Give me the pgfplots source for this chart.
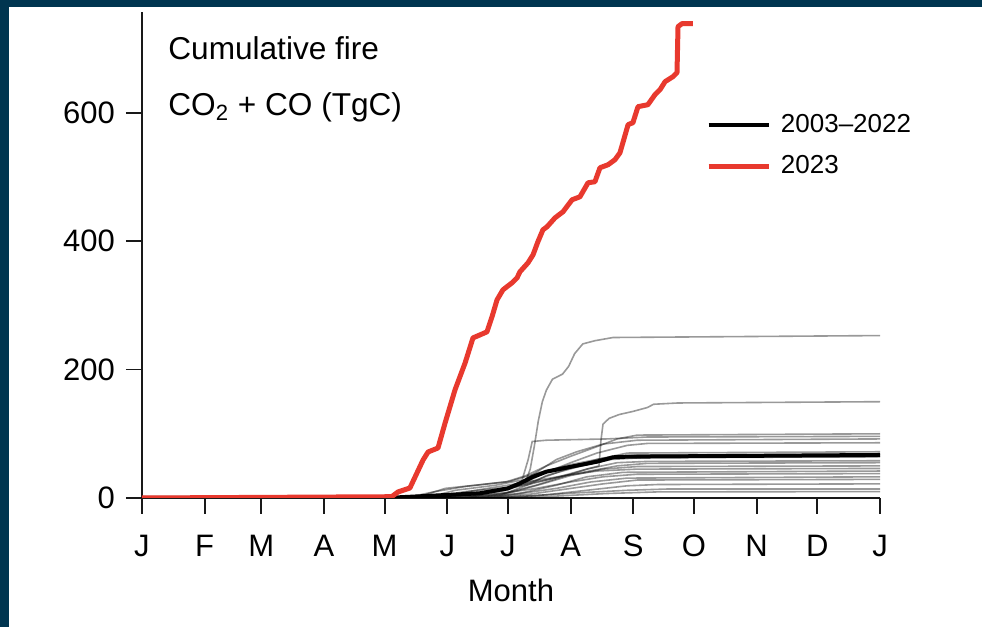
\documentclass[border=0pt]{standalone}
\usepackage{fontspec}
\setmainfont{Liberation Sans}
\usepackage{pgfplots}
\pgfplotsset{compat=1.18}
\definecolor{framecol}{HTML}{003550}
\definecolor{fire}{HTML}{E8392E}

\begin{document}
\begin{tikzpicture}
% background with the dark frame on top and left
\fill[framecol] (0,0) rectangle (491pt,313.5pt);
\fill[white] (4.5pt,0) rectangle (491pt,310pt);

\begin{axis}[
    at={(71pt,64.5pt)}, anchor=south west,
    scale only axis, width=369pt, height=243pt,
    xmin=0, xmax=365, ymin=0, ymax=757,
    enlargelimits=false,
    axis x line=bottom, axis y line=left,
    x axis line style={-}, y axis line style={-},
    axis line style={line width=0.9pt, black!90},
    xtick={0,31,59,90,120,151,181,212,243,273,304,334,365},
    xticklabels={J,F,M,A,M,J,J,A,S,O,N,D,J},
    ytick={0,200,400,600},
    tick align=outside, major tick length=8pt,
    tick style={line width=0.9pt, black!90},
    ticklabel style={font=\fontsize{15.5}{18}\selectfont},
    xticklabel shift=7pt, yticklabel shift=2pt,
    /pgf/number format/assume math mode=true,
    xlabel={Month},
    label style={font=\fontsize{15.5}{18}\selectfont},
    xlabel style={yshift=-4pt},
    legend style={draw=none, fill=none, at={(axis description cs:0.756,0.725)},
        anchor=west, font=\fontsize{13}{15}\selectfont, row sep=6pt,
        /tikz/every odd column/.append style={column sep=3pt}},
    legend cell align=left,
    legend image code/.code={\draw[#1] (0pt,0pt) -- (30pt,0pt);},
    yr/.style={black, draw opacity=0.4, line width=0.8pt, forget plot},
]
\addlegendimage{black, line width=2pt}
\addlegendentry{2003--2022}
\addlegendimage{fire, line width=2.3pt}
\addlegendentry{2023}

% individual years 2003-2022
\addplot[yr] coordinates {(0,0) (150,2) (170,8) (185,18) (190,28) (192,45) (194,80) (196,120) (198,150) (200,168) (203,185) (208,193) (211,205) (214,225) (218,240) (224,245) (233,250) (365,253)};
\addplot[yr] coordinates {(0,0) (160,2) (180,8) (195,20) (210,35) (220,45) (226,50) (227,90) (228,115) (231,124) (236,130) (243,135) (250,141) (253,146) (265,148) (365,150)};
\addplot[yr] coordinates {(0,0) (130,0) (145,10) (160,18) (180,25) (190,35) (200,50) (212,65) (225,80) (235,92) (245,98) (365,100)};
\addplot[yr] coordinates {(0,0) (140,0) (155,12) (175,20) (188,28) (191,60) (193,88) (200,90) (230,92) (250,95) (365,96)};
\addplot[yr] coordinates {(0,0) (150,0) (170,8) (185,20) (195,40) (205,60) (215,72) (228,84) (245,90) (365,92)};
\addplot[yr] coordinates {(0,0) (155,0) (175,10) (190,25) (200,40) (212,55) (225,70) (240,82) (250,85) (365,86)};
\addplot[yr] coordinates {(0,0) (160,0) (180,12) (195,28) (210,45) (225,60) (240,70) (365,72)};
\addplot[yr] coordinates {(0,0) (135,0) (150,15) (165,20) (182,26) (197,40) (212,52) (228,62) (245,67) (365,68)};
\addplot[yr] coordinates {(0,0) (160,0) (178,5) (192,22) (200,35) (215,48) (232,60) (248,63) (365,64)};
\addplot[yr] coordinates {(0,0) (150,0) (170,10) (190,20) (205,32) (220,45) (235,55) (250,57) (365,58)};
\addplot[yr] coordinates {(0,0) (145,0) (165,12) (185,22) (200,30) (218,40) (235,50) (250,54) (365,55)};
\addplot[yr] coordinates {(0,0) (165,0) (182,8) (198,22) (212,35) (228,45) (245,49) (365,50)};
\addplot[yr] coordinates {(0,0) (140,0) (160,10) (180,16) (195,25) (210,35) (225,42) (245,45) (365,46)};
\addplot[yr] coordinates {(0,0) (170,0) (188,8) (205,20) (220,33) (238,40) (365,42)};
\addplot[yr] coordinates {(0,0) (155,0) (175,6) (195,15) (212,25) (228,33) (245,37) (365,38)};
\addplot[yr] coordinates {(0,0) (160,0) (185,6) (205,15) (222,25) (240,31) (365,33)};
\addplot[yr] coordinates {(0,0) (170,0) (192,6) (210,14) (228,22) (245,28) (365,29)};
\addplot[yr] coordinates {(0,0) (175,0) (200,5) (220,12) (240,19) (255,21) (365,22)};
\addplot[yr] coordinates {(0,0) (165,0) (190,3) (215,8) (240,12) (260,14) (365,14)};
\addplot[yr] coordinates {(0,0) (180,0) (205,3) (230,7) (255,9.5) (365,10)};

% mean 2003-2022
\addplot[black, line width=2pt, forget plot] coordinates {(0,0) (120,0) (150.7,4.7) (167,7.3) (181,15) (187,23) (193.4,33) (200,41) (208,46) (216.6,51.4) (225,56.6) (233,63.4) (240,64.4) (365,67)};

% 2023
\addplot[fire, line width=2.5pt, forget plot, line join=round] coordinates {
(0,0) (123.5,2) (126.6,9.4) (132.5,15.6) (139,59.2) (141.5,71.7) (146.4,77.9)
(149.9,116.9) (154.8,168.4) (159.8,210.4) (163.7,249.4) (167.2,254.1) (170.6,258.8)
(173.1,282.2) (175.6,308.7) (178.5,324.2) (183,335.2) (185.5,342.9) (186.9,352.3)
(190.9,366.3) (193.4,378.8) (195.8,399.1) (198.3,417.8) (200.3,422.4) (204.3,436.5)
(208.2,445.8) (212.7,464.5) (216.6,469.2) (220.6,491) (224,492.6) (226.5,514.4)
(230.5,519.1) (233.9,526.9) (236.4,537.8) (240.4,581.5) (242.8,584.6) (245.3,609.5)
(250.2,612.6) (253.7,628.2) (256.2,636) (258.7,648.5) (262.6,656.3) (264.6,662.5)
(265.1,734.2) (267.1,738.9) (272.5,738.9)};

\node[anchor=base west, inner sep=0pt, font=\fontsize{15.8}{18}\selectfont] at (rel axis cs:0.0352,0.903) {Cumulative fire};
\node[anchor=base west, inner sep=0pt, font=\fontsize{15.8}{18}\selectfont] at (rel axis cs:0.0352,0.788) {CO\textsubscript{2} + CO (TgC)};
\end{axis}
\pgfresetboundingbox
\path (0,0) rectangle (491pt,313.5pt);
\end{tikzpicture}
\end{document}
